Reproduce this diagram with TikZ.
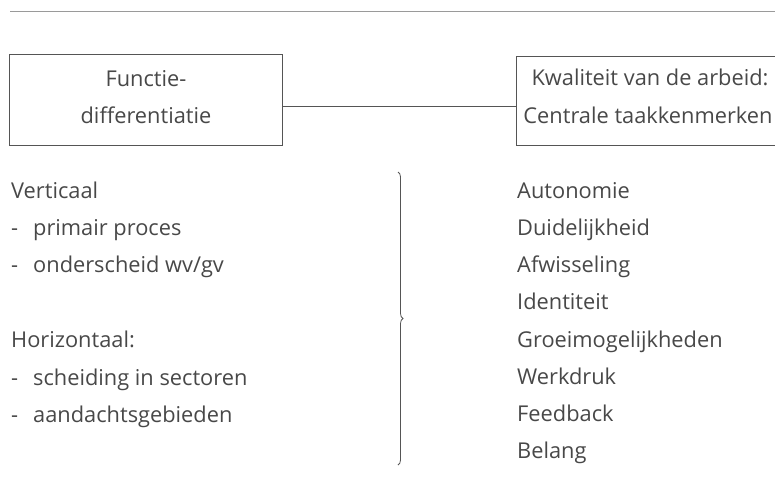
\documentclass[tikz,border=0pt]{standalone}
\usepackage{fontspec}
\setmainfont{Open Sans}
\usetikzlibrary{decorations.pathreplacing}
\definecolor{txt}{HTML}{484848}
\definecolor{ln}{HTML}{555555}
\definecolor{rule}{HTML}{9A9A9A}
\tikzset{
  box/.style={draw=ln, line width=0.8pt, inner sep=0pt},
  lab/.style={text=txt, font=\fontsize{21.8}{37}\selectfont, inner sep=0pt, anchor=base west},
  conn/.style={draw=ln, line width=0.8pt},
}
\begin{document}
\begin{tikzpicture}[x=1pt,y=-1pt]
\useasboundingbox (0,0) rectangle (775,491);
\clip (0,0) rectangle (775,491);
\draw[rule, line width=0.9pt] (10,11) -- (775,11);
\node[box, minimum width=273pt, minimum height=91pt] (lbox) at (145.5,99.5) {};
\node[box, minimum width=272pt, minimum height=89pt] (rbox) at (652,100.5) {};
\node[lab, anchor=base] (l1) at (146,86) {Functie-};
\node[lab, anchor=base] (l2) at (146,123) {differentiatie};
\node[lab, anchor=base] (r1) at (650,85) {Kwaliteit van de arbeid:};
\node[lab, anchor=base] (r2) at (648,123) {Centrale taakkenmerken};
\coordinate (ca) at (lbox.east |- 0,106);
\coordinate (cb) at (rbox.west |- 0,106);
\draw[conn] (ca) -- (cb);
% left list
\node[lab] (v) at (11,198) {Verticaal};
\node[lab] (v1d) at (11,235) {-};
\node[lab] (v1) at (33,235) {primair proces};
\node[lab] (v2d) at (11,272) {-};
\node[lab] (v2) at (33,272) {onderscheid wv/gv};
\node[lab] (h) at (11,347) {Horizontaal:};
\node[lab] (h1d) at (11,385) {-};
\node[lab] (h1) at (33,385) {scheiding in sectoren};
\node[lab] (h2d) at (11,422) {-};
\node[lab] (h2) at (33,422) {aandachtsgebieden};
% brace
\coordinate (bt) at (398,172);
\coordinate (bb) at (398,465);
\draw[conn, decorate, decoration={brace, amplitude=5pt}] (bt) -- (bb);
% right list
\node[lab] (a1) at (517,198) {Autonomie};
\node[lab] (a2) at (517,235) {Duidelijkheid};
\node[lab] (a3) at (517,272) {Afwisseling};
\node[lab] (a4) at (517,309) {Identiteit};
\node[lab] (a5) at (517,347) {Groeimogelijkheden};
\node[lab] (a6) at (517,384) {Werkdruk};
\node[lab] (a7) at (517,421) {Feedback};
\node[lab] (a8) at (517,458) {Belang};
\end{tikzpicture}
\end{document}
